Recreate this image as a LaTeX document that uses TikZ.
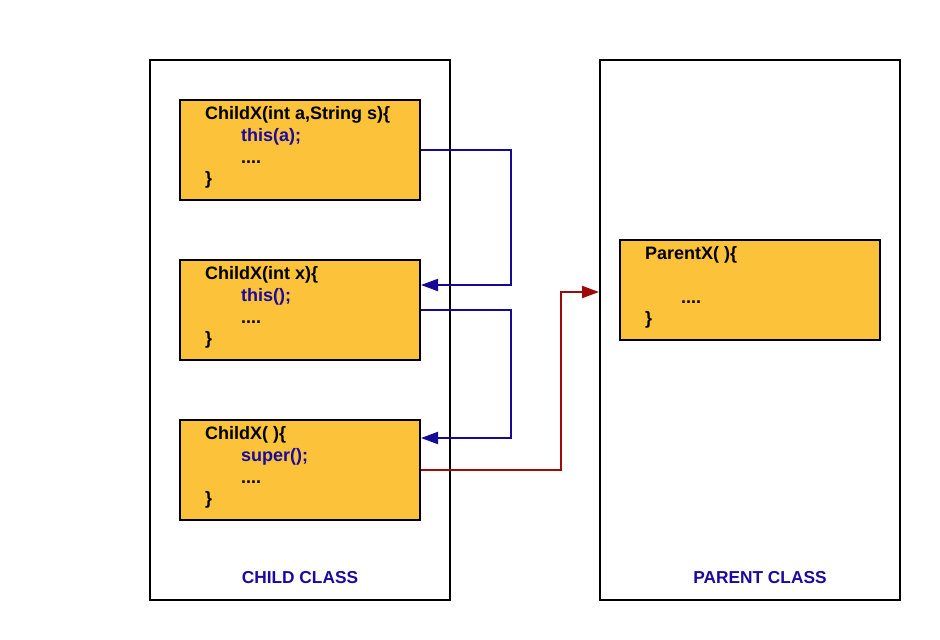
\documentclass[tikz,border=0pt]{standalone}
\usepackage{fontspec}
\setmainfont{Liberation Sans}
\usetikzlibrary{arrows.meta,calc}
\definecolor{boxfill}{HTML}{FBC23A}
\definecolor{codeblue}{HTML}{1A0AA0}
\definecolor{linkblue}{HTML}{140A96}
\definecolor{linkred}{HTML}{9C0A0A}
\begin{document}
\begin{tikzpicture}[x=1pt,y=-1pt,
  classbox/.style={draw=black,line width=2pt,fill=white,minimum width=300pt,minimum height=540pt,inner sep=0pt},
  ctorbox/.style={draw=black,line width=2pt,fill=boxfill,minimum width=240pt,minimum height=100pt,inner sep=0pt},
  codetxt/.style={anchor=base west,inner sep=0pt,font=\fontsize{18}{20}\selectfont\bfseries},
  calltxt/.style={codetxt,text=codeblue},
  classlabel/.style={anchor=base,inner sep=0pt,text=codeblue,font=\fontsize{17.3}{20}\selectfont\bfseries},
  bluelink/.style={draw=linkblue,line width=2pt,-{Triangle[length=17pt,width=12pt]}},
  redlink/.style={draw=linkred,line width=2pt,-{Triangle[length=17pt,width=12pt]}}]
\useasboundingbox (0,0) rectangle (940,640);
\node[classbox] (child) at (300,330) {};
\node[classbox] (parent) at (750,330) {};
\node[ctorbox] (c1) at (300,150) {};
\node[ctorbox] (c2) at (300,310) {};
\node[ctorbox] (c3) at (300,470) {};
\node[ctorbox,minimum width=260pt] (p) at (750,290) {};
% box 1
\node[codetxt] (c1a) at (205,119) {ChildX(int a,String s)\{};
\node[calltxt] (c1b) at (241,141) {this(a);};
\node[codetxt] (c1c) at (241,163) {....};
\node[codetxt] (c1d) at (205,184) {\}};
% box 2
\node[codetxt] (c2a) at (205,279) {ChildX(int x)\{};
\node[calltxt] (c2b) at (241,301) {this();};
\node[codetxt] (c2c) at (241,323) {....};
\node[codetxt] (c2d) at (205,344) {\}};
% box 3
\node[codetxt] (c3a) at (205,439) {ChildX( )\{};
\node[calltxt] (c3b) at (241,461) {super();};
\node[codetxt] (c3c) at (241,483) {....};
\node[codetxt] (c3d) at (205,504) {\}};
% parent box
\node[codetxt] (pa) at (645,259) {ParentX( )\{};
\node[codetxt] (pc) at (681,303) {....};
\node[codetxt] (pd) at (645,324) {\}};
% labels
\node[classlabel] (cl) at (300,583) {CHILD CLASS};
\node[classlabel] (pl) at (760,583) {PARENT CLASS};
% links
\draw[bluelink] (c1.east) -- ++(90,0) |- ([yshift=25pt]c2.east);
\draw[bluelink] (c2.east) -- ++(90,0) |- ([yshift=32pt]c3.east);
\draw[redlink] (c3.east) -- ++(140,0) |- ($(parent.west |- p.west)+(0,2)$);
\end{tikzpicture}
\end{document}
